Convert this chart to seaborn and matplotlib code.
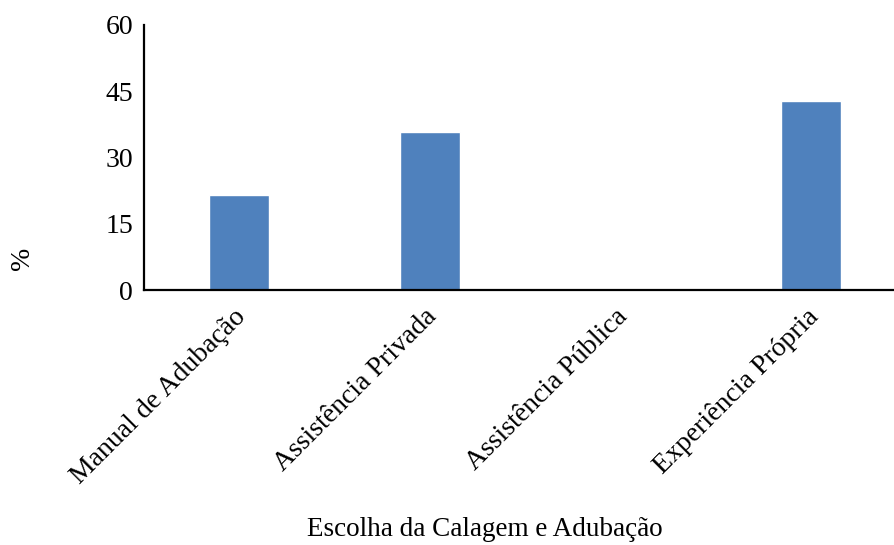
import matplotlib
matplotlib.use("Agg")
import matplotlib.pyplot as plt
import matplotlib.transforms as mtransforms
import seaborn as sns
import pandas as pd

categorias = ["Manual de Adubação", "Assistência Privada", "Assistência Pública", "Experiência Própria"]
percentuais = [21.4, 35.7, 0.0, 42.9]
yticks = [0, 15, 30, 45, 60]

sns.set_theme(style="white")
plt.rcParams["font.family"] = ["Liberation Serif", "DejaVu Serif"]
plt.rcParams["text.color"] = "black"
plt.rcParams["xtick.color"] = "black"
plt.rcParams["ytick.color"] = "black"

df = pd.DataFrame({"categoria": categorias, "pct": percentuais})

W, H = 894, 545
fig = plt.figure(figsize=(W / 100, H / 100), dpi=100)
ax = fig.add_axes([144 / W, 1 - 290 / H, (W - 144) / W, 265 / H])

sns.barplot(data=df, x="categoria", y="pct", color="#4F81BD", saturation=1,
            width=0.315, ax=ax)

ax.set_ylim(0, 60)
ax.set_xlim(-0.5, 3.433)
ax.set_yticks(yticks)
ax.set_yticklabels([str(t) for t in yticks], fontsize=20)
ax.tick_params(axis="both", length=0, pad=8, colors="black")
ax.set_xticks(range(len(categorias)))
ax.set_xticklabels(categorias, fontsize=20, rotation=45, ha="right",
                   va="top", rotation_mode="anchor")

# nudge the slanted category labels slightly left and down
shift = mtransforms.ScaledTranslation(-6 / 100, -3 / 100, fig.dpi_scale_trans)
for lbl in ax.get_xticklabels():
    lbl.set_transform(lbl.get_transform() + shift)

ax.set_xlabel("")
ax.set_ylabel("")

for side in ["top", "right"]:
    ax.spines[side].set_visible(False)
for side in ["left", "bottom"]:
    ax.spines[side].set_color("black")
    ax.spines[side].set_linewidth(1.6)

fig.text(22 / W, 1 - 258 / H, "%", rotation=90, fontsize=20,
         ha="center", va="center", color="black")
fig.text(485 / W, 1 - 530 / H, "Escolha da Calagem e Adubação", fontsize=19.5,
         ha="center", va="center", color="black")

fig.savefig("out.png", dpi=100, facecolor="white")
